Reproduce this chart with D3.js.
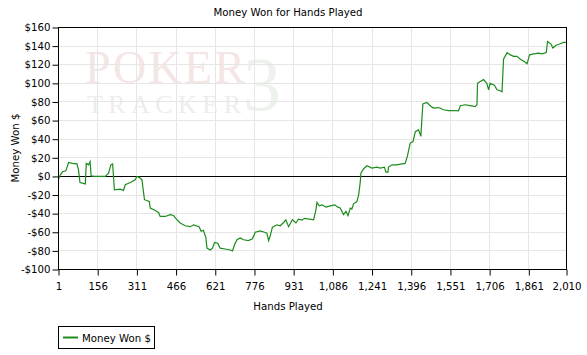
<!DOCTYPE html>
<html>
<head>
<meta charset="utf-8">
<script src="https://cdn.jsdelivr.net/npm/d3@7/dist/d3.min.js"></script>
<style>
  body { margin: 0; background: #fff; }
  svg text { font-family: "DejaVu Sans", sans-serif; }
</style>
</head>
<body>
<svg></svg>
<script>
// hands played and cumulative money won
const hands = [1, 8, 17, 30, 41, 56, 74, 80, 86, 107, 111, 120, 126, 130, 143, 186, 199, 208, 215, 219,
  222, 245, 258, 265, 285, 304, 311, 320, 331, 341, 360, 364, 384, 397, 403, 423, 443, 456, 465, 482,
  502, 522, 535, 557, 565, 574, 584, 588, 601, 610, 618, 631, 640, 660, 680, 689, 697, 707, 720, 733,
  752, 768, 779, 799, 816, 825, 832, 838, 847, 865, 878, 891, 900, 911, 926, 940, 950, 964, 974, 1010,
  1019, 1023, 1032, 1043, 1059, 1076, 1093, 1106, 1115, 1128, 1138, 1146, 1155, 1161, 1168, 1181, 1188, 1194, 1197, 1207,
  1221, 1240, 1260, 1273, 1290, 1296, 1304, 1306, 1320, 1339, 1359, 1372, 1381, 1392, 1403, 1412, 1425, 1434, 1438, 1442,
  1458, 1471, 1484, 1504, 1524, 1543, 1563, 1583, 1590, 1609, 1629, 1649, 1656, 1658, 1669, 1682, 1695, 1702, 1708, 1725,
  1735, 1748, 1755, 1761, 1775, 1788, 1801, 1814, 1828, 1843, 1854, 1864, 1880, 1900, 1913, 1930, 1935, 1948, 1956, 1969,
  1985, 1998, 2010];
const moneyWon = [-3, 1.7, 5, 6, 15, 14, 13.5, 7, -6.5, -8, 14, 12.5, 16, 0.6, 0, 0, 3.5, 12.5, 13.5, -2,
  -14.4, -13.7, -15, -9, -6.5, -3.7, 0, -1, -3.7, -25, -27, -34, -36.6, -39, -43, -43, -41, -42, -45, -50,
  -53, -54, -52, -54, -59, -58, -66, -77, -79, -77, -71, -71.7, -77, -78, -79, -80, -73.5, -68, -66, -68,
  -69, -67, -60, -58.5, -60, -61, -69, -64, -54.5, -52, -53, -49.5, -46.6, -54, -46.6, -50, -46, -47, -45, -46.6,
  -36, -28, -31.6, -30.5, -33, -31.6, -30.5, -33, -34, -41, -37.5, -42, -34, -35, -29.4, -27, -19.8, -7, 3.5, 8,
  11.4, 9, 10, 9, 10, 4.6, 4.6, 10, 12.5, 12.5, 13.5, 14, 22, 35.8, 37.5, 48, 50, 43, 61, 78,
  79.4, 76, 73.4, 74, 71.6, 70.8, 70.8, 70.5, 76, 77, 76, 75, 77, 100, 102, 104, 100, 93, 100, 98,
  93, 92, 91, 126, 133, 130.6, 129, 129, 126, 123.5, 121, 130.6, 131.7, 132.5, 131.7, 133, 145, 142.5, 138, 141,
  142.5, 144, 144];

const xTicks = [1, 156, 311, 466, 621, 776, 931, 1086, 1241, 1396, 1551, 1706, 1861, 2010];
const yTicks = [-100, -80, -60, -40, -20, 0, 20, 40, 60, 80, 100, 120, 140, 160];

const data = hands.map((h, i) => ({ hand: h, won: moneyWon[i] }));

var w = 587;
var h = 355;
const margin = { top: 27.5, left: 58.5, right: 21, bottom: 85 };
const innerWidth = 508;
const innerHeight = 242;
const fs = 10.2;

let svg = d3.select("svg")
  .attr("width", w)
  .attr("height", h);

// watermark
const wm = svg.append("g");
wm.append("text").text("POKER")
  .attr("x", 85).attr("y", 83)
  .attr("textLength", 160).attr("lengthAdjust", "spacing")
  .style("font-family", "Liberation Serif, serif")
  .attr("font-size", 46).attr("fill", "#f5e6e6");
wm.append("text").text("TRACKER")
  .attr("x", 87).attr("y", 113)
  .attr("textLength", 154).attr("lengthAdjust", "spacing")
  .style("font-family", "Liberation Serif, serif")
  .attr("font-size", 26).attr("fill", "#ededed");
wm.append("text").text("3")
  .attr("x", 243).attr("y", 110)
  .style("font-family", "Liberation Serif, serif")
  .attr("font-size", 76).attr("fill", "#edf2ed");

const g = svg.append("g")
  .attr("transform", `translate(${margin.left}, ${margin.top})`);

let xScale = d3.scaleLinear()
  .domain([1, 2010])
  .range([0, innerWidth]);
let yScale = d3.scaleLinear()
  .domain([-100, 160])
  .range([innerHeight, 0]);

// grid
g.append("g").selectAll("line")
  .data(xTicks.slice(1, -1))
  .enter().append("line")
  .attr("x1", d => Math.round(xScale(d))).attr("x2", d => Math.round(xScale(d)))
  .attr("y1", 0).attr("y2", innerHeight)
  .attr("stroke", "#e6e6e6");
g.append("g").selectAll("line")
  .data(yTicks.slice(1, -1))
  .enter().append("line")
  .attr("x1", 0).attr("x2", innerWidth)
  .attr("y1", d => Math.round(yScale(d))).attr("y2", d => Math.round(yScale(d)))
  .attr("stroke", "#e6e6e6");

// zero line
g.append("line")
  .attr("x1", 0).attr("x2", innerWidth)
  .attr("y1", Math.round(yScale(0))).attr("y2", Math.round(yScale(0)))
  .attr("stroke", "#000");

// the line
let line = d3.line()
  .x(d => xScale(d.hand))
  .y(d => yScale(d.won));
g.append("path")
  .datum(data)
  .attr("d", line)
  .attr("fill", "none")
  .attr("stroke", "#1c8c1c")
  .attr("stroke-width", 1.2);

// frame
g.append("rect")
  .attr("width", innerWidth).attr("height", innerHeight)
  .attr("fill", "none").attr("stroke", "#000");

// axes
var yAxis = d3.axisLeft(yScale)
  .tickValues(yTicks)
  .tickSize(6).tickPadding(2)
  .tickFormat(d => (d < 0 ? "-$" : "$") + Math.abs(d));
let yAxisG = g.append("g").call(yAxis);

var xAxis = d3.axisBottom(xScale)
  .tickValues(xTicks)
  .tickSize(6).tickPadding(7)
  .tickFormat(d3.format(","));
let xAxisG = g.append("g").call(xAxis)
  .attr("transform", `translate(0,${innerHeight})`);

[yAxisG, xAxisG].forEach(a => {
  a.select(".domain").remove();
  a.selectAll("text").attr("font-size", fs).attr("fill", "#000")
    .style("font-family", "DejaVu Sans, sans-serif");
});

// titles
svg.append("text")
  .text("Money Won for Hands Played")
  .attr("x", 288).attr("y", 16)
  .attr("text-anchor", "middle")
  .attr("font-size", fs);
svg.append("text")
  .text("Hands Played")
  .attr("x", 288).attr("y", 310)
  .attr("text-anchor", "middle")
  .attr("font-size", fs);
svg.append("text")
  .attr("transform", "translate(19,148)rotate(-90)")
  .attr("text-anchor", "middle")
  .attr("font-size", fs)
  .text("Money Won $");

// legend
const lg = svg.append("g");
lg.append("rect")
  .attr("x", 58.5).attr("y", 326.5).attr("width", 96).attr("height", 22)
  .attr("fill", "#fff").attr("stroke", "#000");
lg.append("line")
  .attr("x1", 63).attr("x2", 78).attr("y1", 337.5).attr("y2", 337.5)
  .attr("stroke", "#1c8c1c").attr("stroke-width", 2);
lg.append("text")
  .text("Money Won $")
  .attr("x", 82).attr("y", 341.5)
  .attr("font-size", fs);
</script>
</body>
</html>
